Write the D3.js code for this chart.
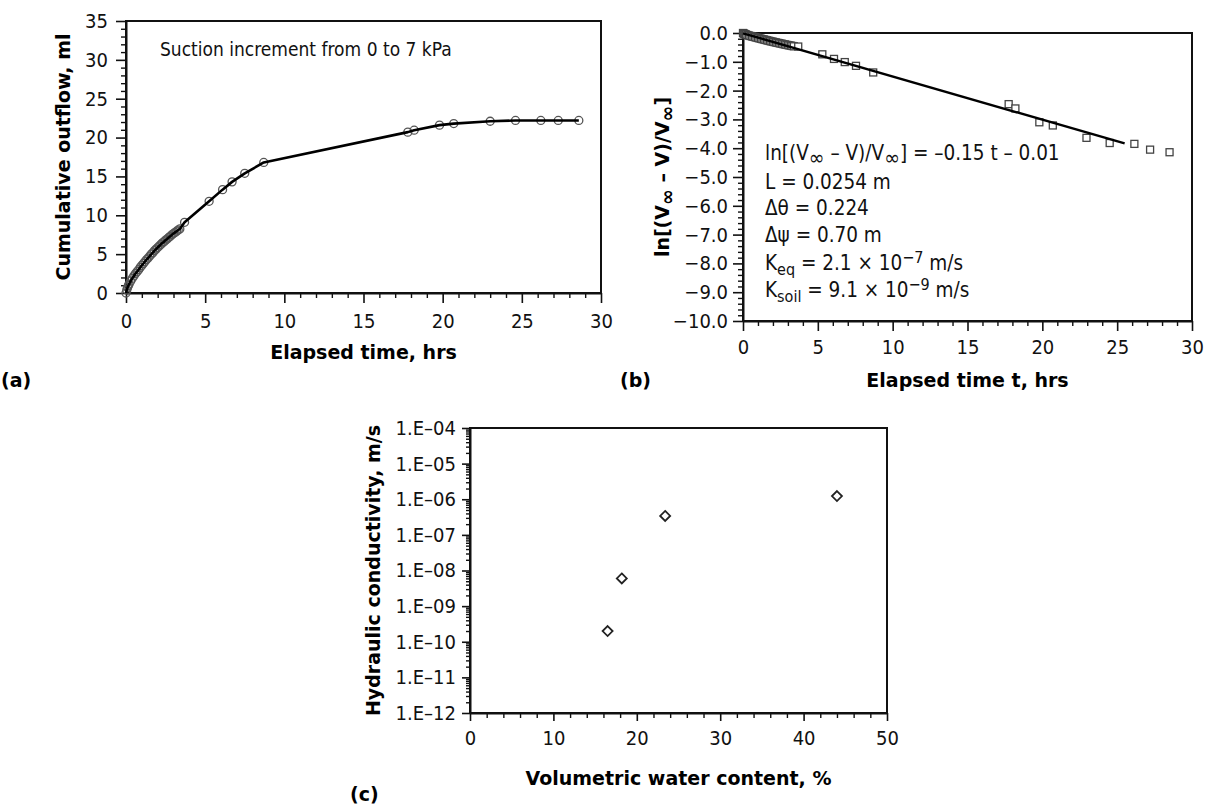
<!DOCTYPE html>
<html>
<head>
<meta charset="utf-8">
<script src="https://cdn.jsdelivr.net/npm/d3@7"></script>
<style>
  html, body { margin: 0; padding: 0; background: #fff; }
  svg { display: block; }
  .reg { font-family: 'DejaVu Sans Condensed', 'Liberation Sans', Arial, sans-serif; }
  .bold { font-family: 'DejaVu Sans', Verdana, sans-serif; font-weight: bold; }
</style>
</head>
<body>
<svg id="chart" width="1205" height="804"></svg>
<script>
// ---------------- DATA ----------------
// Panel (a): cumulative outflow (ml) vs elapsed time (hrs)
const timeA = [0, 0.05, 0.1, 0.15, 0.2, 0.3, 0.4, 0.5, 0.6, 0.7, 0.8, 0.9, 1.0, 1.1, 1.2, 1.3, 1.4, 1.5, 1.6, 1.7, 1.8, 1.9, 2.0, 2.1, 2.2, 2.3, 2.4, 2.5, 2.6, 2.7, 2.8, 2.9, 3.0, 3.1, 3.2, 3.3, 3.4, 3.7, 5.25, 6.1, 6.7, 7.5, 8.7, 17.8, 18.2, 19.8, 20.7, 23.0, 24.6, 26.2, 27.3, 28.6];
const outflowA = [0, 0.4, 0.7, 0.95, 1.15, 1.55, 1.9, 2.2, 2.5, 2.75, 3.0, 3.3, 3.55, 3.8, 4.05, 4.3, 4.5, 4.75, 5.0, 5.2, 5.45, 5.65, 5.85, 6.05, 6.25, 6.45, 6.6, 6.8, 6.95, 7.15, 7.3, 7.5, 7.65, 7.8, 7.95, 8.1, 8.25, 9.1, 11.8, 13.3, 14.3, 15.4, 16.8, 20.7, 20.95, 21.6, 21.8, 22.1, 22.2, 22.2, 22.2, 22.2];
const annotationA = "Suction increment from 0 to 7 kPa";

// Panel (b): ln[(Vinf - V)/Vinf] vs elapsed time t (hrs)
const timeB = [0, 0.05, 0.1, 0.15, 0.2, 0.3, 0.4, 0.5, 0.6, 0.7, 0.8, 0.9, 1.0, 1.1, 1.2, 1.3, 1.4, 1.5, 1.6, 1.7, 1.8, 1.9, 2.0, 2.1, 2.2, 2.3, 2.4, 2.5, 2.6, 2.7, 2.8, 2.9, 3.0, 3.1, 3.2, 3.3, 3.4, 3.69, 5.3, 6.08, 6.8, 7.55, 8.7, 17.75, 18.2, 19.8, 20.7, 22.95, 24.5, 26.15, 27.2, 28.5];
const lnRatioB = [0, -0.018, -0.032, -0.043, -0.053, -0.072, -0.089, -0.104, -0.119, -0.131, -0.145, -0.160, -0.173, -0.187, -0.200, -0.214, -0.225, -0.240, -0.254, -0.266, -0.280, -0.292, -0.304, -0.316, -0.329, -0.341, -0.351, -0.364, -0.374, -0.387, -0.397, -0.410, -0.420, -0.430, -0.441, -0.451, -0.462, -0.47, -0.74, -0.90, -1.01, -1.14, -1.37, -2.47, -2.62, -3.10, -3.21, -3.64, -3.82, -3.85, -4.05, -4.14];
const fitT = [0, 25.5];
const fitY = [-0.01, -3.835];

// Panel (c): hydraulic conductivity (m/s) vs volumetric water content (%)
const thetaC = [16.5, 18.2, 23.4, 44.0];
const conductivityC = [2.0e-10, 6.0e-9, 3.4e-7, 1.23e-6];

// Tick values
const ticksA_x = [0, 5, 10, 15, 20, 25, 30];
const ticksA_y = [0, 5, 10, 15, 20, 25, 30, 35];
const ticksB_x = [0, 5, 10, 15, 20, 25, 30];
const ticksB_y = [0, -1, -2, -3, -4, -5, -6, -7, -8, -9, -10];
const ticksC_x = [0, 10, 20, 30, 40, 50];
const ticksC_y = [1e-12, 1e-11, 1e-10, 1e-9, 1e-8, 1e-7, 1e-6, 1e-5, 1e-4];

// ---------------- DRAWING ----------------
const svg = d3.select("#chart");
const FS = 19;     // titles / annotation
const TFS = 20;    // tick labels

function styleAxis(g) {
  g.selectAll(".domain").attr("stroke", "#111").attr("stroke-width", 2);
  g.selectAll(".tick line").attr("stroke", "#111").attr("stroke-width", 1.6);
  g.selectAll(".tick text").attr("class", "reg").attr("font-size", TFS).attr("fill", "#111");
  g.attr("font-family", null).attr("font-size", null);
}

function frame(x, y) {
  const [x0, x1] = x.range(), [y1, y0] = y.range();
  svg.append("rect").attr("x", x0).attr("y", y0).attr("width", x1 - x0).attr("height", y1 - y0)
    .attr("fill", "none").attr("stroke", "#111").attr("stroke-width", 2);
}

function minorAxis(axisFn, scale, values, size, translate) {
  const g = svg.append("g").attr("transform", translate)
    .call(axisFn(scale).tickValues(values).tickSize(size).tickFormat("").tickSizeOuter(0));
  g.select(".domain").remove();
  g.selectAll(".tick line").attr("stroke", "#111").attr("stroke-width", 1.4);
  return g;
}

// ===== Panel (a) =====
const xA = d3.scaleLinear().domain([0, 30]).range([126, 601]);
const yA = d3.scaleLinear().domain([0, 35]).range([293, 21]);
frame(xA, yA);
minorAxis(d3.axisBottom, xA, d3.range(0, 31, 1).filter(v => v % 5 !== 0), 5, `translate(0,${yA(0)})`);
minorAxis(d3.axisLeft, yA, d3.range(0, 36, 1).filter(v => v % 5 !== 0), 5, `translate(${xA(0)},0)`);
svg.append("g").attr("transform", `translate(0,${yA(0)})`)
  .call(d3.axisBottom(xA).tickValues(ticksA_x).tickSize(10).tickPadding(11).tickSizeOuter(0))
  .call(styleAxis);
svg.append("g").attr("transform", `translate(${xA(0)},0)`)
  .call(d3.axisLeft(yA).tickValues(ticksA_y).tickSize(10).tickPadding(8).tickSizeOuter(0))
  .call(styleAxis);

svg.append("g").selectAll("circle").data(timeA).join("circle")
  .attr("cx", (d) => xA(d)).attr("cy", (d, i) => yA(outflowA[i])).attr("r", 4)
  .attr("fill", "none").attr("stroke", "#555").attr("stroke-width", 1.3);
svg.append("path")
  .datum(timeA.map((t, i) => [t, outflowA[i]]))
  .attr("d", d3.line().x(d => xA(d[0])).y(d => yA(d[1])))
  .attr("fill", "none").attr("stroke", "#000").attr("stroke-width", 2.6).attr("stroke-linejoin", "round");

svg.append("text").attr("class", "reg").attr("font-size", FS).attr("x", 160).attr("y", 56).attr("fill", "#111").text(annotationA);
svg.append("text").attr("class", "bold").attr("font-size", FS).attr("text-anchor", "middle")
  .attr("transform", `translate(70,${(yA.range()[0] + yA.range()[1]) / 2}) rotate(-90)`).text("Cumulative outflow, ml");
svg.append("text").attr("class", "bold").attr("font-size", FS).attr("text-anchor", "middle")
  .attr("x", (xA.range()[0] + xA.range()[1]) / 2).attr("y", 359).text("Elapsed time, hrs");
svg.append("text").attr("class", "bold").attr("font-size", FS).attr("x", 1).attr("y", 387).text("(a)");

// ===== Panel (b) =====
const xB = d3.scaleLinear().domain([0, 30]).range([743, 1192]);
const yB = d3.scaleLinear().domain([-10, 0]).range([321, 33]);
frame(xB, yB);
minorAxis(d3.axisBottom, xB, d3.range(0, 31, 1).filter(v => v % 5 !== 0), 5, `translate(0,${yB(-10)})`);
minorAxis(d3.axisLeft, yB, d3.range(-50, 1, 1).filter(v => v % 5 !== 0).map(v => v / 5), 5, `translate(${xB(0)},0)`);
svg.append("g").attr("transform", `translate(0,${yB(-10)})`)
  .call(d3.axisBottom(xB).tickValues(ticksB_x).tickSize(10).tickPadding(9).tickSizeOuter(0))
  .call(styleAxis);
svg.append("g").attr("transform", `translate(${xB(0)},0)`)
  .call(d3.axisLeft(yB).tickValues(ticksB_y).tickSize(10).tickPadding(5).tickSizeOuter(0)
    .tickFormat(d => d === 0 ? "0.0" : "\u2212" + Math.abs(d).toFixed(1)))
  .call(styleAxis);

const sqS = 7;
svg.append("g").selectAll("rect").data(timeB).join("rect")
  .attr("x", d => xB(d) - sqS / 2).attr("y", (d, i) => yB(lnRatioB[i]) - sqS / 2)
  .attr("width", sqS).attr("height", sqS)
  .attr("fill", "#fff").attr("stroke", "#444").attr("stroke-width", 1.3);
svg.append("path")
  .datum(fitT.map((t, i) => [t, fitY[i]]))
  .attr("d", d3.line().x(d => xB(d[0])).y(d => yB(d[1])))
  .attr("fill", "none").attr("stroke", "#000").attr("stroke-width", 2.4);

// annotation lines
const annX = 765, AFS = 20.5, SFS = 16, INF = 21;
function lineText(y) {
  return svg.append("text").attr("class", "reg").attr("font-size", AFS).attr("x", annX).attr("y", y).attr("fill", "#111");
}
function sub(t, s, fs) { t.append("tspan").attr("dy", 5).attr("font-size", fs || SFS).text(s); }
function unsub(t, s) { t.append("tspan").attr("dy", -5).text(s); }
let t1 = lineText(160);
t1.append("tspan").text("ln[(V");
sub(t1, "\u221E", INF);
unsub(t1, " \u2013 V)/V");
sub(t1, "\u221E", INF);
unsub(t1, "] = \u20130.15 t \u2013 0.01");
lineText(189).text("L = 0.0254 m");
lineText(215).text("\u0394\u03B8 = 0.224");
lineText(242).text("\u0394\u03C8 = 0.70 m");
let t5 = lineText(270);
t5.append("tspan").text("K");
sub(t5, "eq");
unsub(t5, " = 2.1 \u00D7 10");
t5.append("tspan").attr("dy", -7).attr("font-size", SFS).text("\u22127");
t5.append("tspan").attr("dy", 7).text(" m/s");
let t6 = lineText(297);
t6.append("tspan").text("K");
sub(t6, "soil");
unsub(t6, " = 9.1 \u00D7 10");
t6.append("tspan").attr("dy", -7).attr("font-size", SFS).text("\u22129");
t6.append("tspan").attr("dy", 7).text(" m/s");

// y label (b)
let yl = svg.append("text").attr("class", "bold").attr("font-size", FS).attr("text-anchor", "middle")
  .attr("transform", `translate(669,${(yB.range()[0] + yB.range()[1]) / 2}) rotate(-90)`);
yl.append("tspan").text("ln[(V");
yl.append("tspan").attr("dy", 5).attr("font-size", 19).text("\u221E");
yl.append("tspan").attr("dy", -5).text(" \u2013 V)/V");
yl.append("tspan").attr("dy", 5).attr("font-size", 19).text("\u221E");
yl.append("tspan").attr("dy", -5).text("]");
svg.append("text").attr("class", "bold").attr("font-size", FS).attr("text-anchor", "middle")
  .attr("x", (xB.range()[0] + xB.range()[1]) / 2).attr("y", 387).text("Elapsed time t, hrs");
svg.append("text").attr("class", "bold").attr("font-size", FS).attr("x", 620).attr("y", 387).text("(b)");

// ===== Panel (c) =====
const xC = d3.scaleLinear().domain([0, 50]).range([470, 887]);
const yC = d3.scaleLog().domain([1e-12, 1e-4]).range([713, 428]);
frame(xC, yC);
minorAxis(d3.axisBottom, xC, d3.range(0, 51, 2).filter(v => v % 10 !== 0), 5, `translate(0,${yC(1e-12)})`);
const minorLog = [];
for (let e = -12; e < -4; e++) for (let m = 2; m <= 9; m++) minorLog.push(m * Math.pow(10, e));
minorAxis(d3.axisLeft, yC, minorLog, 4, `translate(${xC(0)},0)`);
svg.append("g").attr("transform", `translate(0,${yC(1e-12)})`)
  .call(d3.axisBottom(xC).tickValues(ticksC_x).tickSize(8).tickPadding(10).tickSizeOuter(0))
  .call(styleAxis);
svg.append("g").attr("transform", `translate(${xC(0)},0)`)
  .call(d3.axisLeft(yC).tickValues(ticksC_y).tickSize(8).tickPadding(6).tickSizeOuter(0)
    .tickFormat(d => "1.E\u2013" + String(Math.round(-Math.log10(d))).padStart(2, "0")))
  .call(styleAxis);

const dm = 5;
svg.append("g").selectAll("path").data(thetaC).join("path")
  .attr("d", (d, i) => {
    const cx = xC(d), cy = yC(conductivityC[i]);
    return `M${cx},${cy - dm}L${cx + dm},${cy}L${cx},${cy + dm}L${cx - dm},${cy}Z`;
  })
  .attr("fill", "#fff").attr("stroke", "#222").attr("stroke-width", 1.8);

svg.append("text").attr("class", "bold").attr("font-size", FS).attr("text-anchor", "middle")
  .attr("transform", `translate(380,${(yC.range()[0] + yC.range()[1]) / 2}) rotate(-90)`).text("Hydraulic conductivity, m/s");
svg.append("text").attr("class", "bold").attr("font-size", FS).attr("text-anchor", "middle")
  .attr("x", (xC.range()[0] + xC.range()[1]) / 2).attr("y", 785).text("Volumetric water content, %");
svg.append("text").attr("class", "bold").attr("font-size", FS).attr("x", 350).attr("y", 801).text("(c)");
</script>
</body>
</html>
